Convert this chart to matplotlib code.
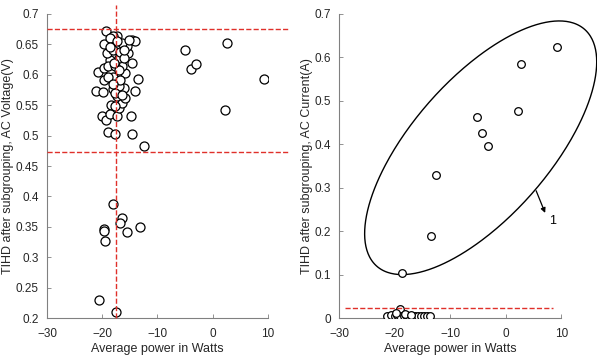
import numpy as np
import matplotlib
matplotlib.use("Agg")
import matplotlib.pyplot as plt

plt.rcParams['font.family'] = ['Liberation Sans', 'DejaVu Sans']

# ---------------- Left panel data: AC Voltage TIHD ----------------
volt_x = [-19.3, -19.6, -20.8, -21.1, -20.1, -19.3, -18.9, -17.6, -14.6, -14.8,
          -14.1, -13.5, -12.5, -14.6, -14.0, -14.6, -15.4, -19.9, -19.7, -19.7,
          -18.6, -18.4, -18.6, -17.3, -17.0, -16.4, -15.8, -16.1, -15.8, -16.4,
          -15.5, -16.4, -17.3, -18.0, -18.6, -19.2, -18.9, -18.0, -18.1, -17.3,
          -17.6, -17.0, -16.7, -17.0, -18.0, -17.3, -16.7, -18.6, -16.1, -17.6,
          -17.6, -16.9, -19.0, -18.0, -16.4, -15.2, -17.8, -16.0,
          -5.0, -4.0, -3.0, 2.6, 2.2, 9.3,
          -18.0, -19.7, -19.7, -19.5, -16.5, -16.7, -15.5, -13.2, -20.5, -17.5]
volt_y = [0.672, 0.650, 0.604, 0.574, 0.533, 0.525, 0.506, 0.503, 0.502, 0.532,
          0.574, 0.593, 0.483, 0.657, 0.655, 0.619, 0.636, 0.571, 0.592, 0.611,
          0.625, 0.551, 0.535, 0.532, 0.546, 0.554, 0.562, 0.578, 0.603, 0.614,
          0.647, 0.652, 0.663, 0.664, 0.660, 0.636, 0.614, 0.597, 0.576, 0.565,
          0.548, 0.581, 0.592, 0.627, 0.641, 0.655, 0.638, 0.646, 0.627, 0.570,
          0.614, 0.608, 0.597, 0.585, 0.567, 0.658, 0.620, 0.640,
          0.640, 0.610, 0.617, 0.652, 0.542, 0.593,
          0.388, 0.347, 0.343, 0.326, 0.365, 0.357, 0.341, 0.349, 0.230, 0.210]

volt_hlines = [0.675, 0.473]
volt_vline = -17.5

# ---------------- Right panel data: AC Current TIHD ----------------
curr_x = [9.3, 2.7, 2.3, -5.2, -4.3, -3.1, -12.6, -13.5, -18.6,
          -19.1, -21.3, -20.6, -20.0, -19.5, -19.0, -18.4, -17.9, -17.4, -16.9,
          -16.3, -15.8, -15.2, -14.7, -14.1, -13.6, -19.8, -18.2, -17.0]
curr_y = [0.623, 0.584, 0.477, 0.462, 0.426, 0.397, 0.330, 0.188, 0.104,
          0.020, 0.004, 0.006, 0.004, 0.008, 0.005, 0.004, 0.006, 0.004, 0.005,
          0.004, 0.005, 0.004, 0.004, 0.004, 0.004, 0.012, 0.010, 0.008]

curr_hline = 0.023
curr_hline_span = [-29.0, 8.6]

# Ellipse (enclosing group "1"): centre, half-extents, phase
ell_center = (-4.5, 0.392)
ell_rx, ell_ry, ell_phase = 20.9, 0.292, 0.827
annot_label = "1"
annot_from = (5.3, 0.299)
annot_to = (7.3, 0.236)

xticks = [-30, -20, -10, 0, 10]
volt_yticks = [0.2, 0.25, 0.3, 0.35, 0.4, 0.45, 0.5, 0.55, 0.6, 0.65, 0.7]
curr_yticks = [0, 0.1, 0.2, 0.3, 0.4, 0.5, 0.6, 0.7]

fig = plt.figure(figsize=(5.97, 3.56), dpi=100)
axL = fig.add_axes([0.0787, 0.1067, 0.370, 0.854])
axR = fig.add_axes([0.568, 0.1067, 0.372, 0.854])

spine_col = '#808080'
text_col = '#262626'

def style(ax):
    for s in ['top', 'right']:
        ax.spines[s].set_visible(False)
    for s in ['left', 'bottom']:
        ax.spines[s].set_color(spine_col)
        ax.spines[s].set_linewidth(0.8)
    ax.tick_params(direction='in', length=3, width=0.6, color=spine_col,
                   labelsize=8.5, labelcolor=text_col)
    ax.tick_params(axis='x', pad=7)
    ax.tick_params(axis='y', pad=6)
    ax.set_xlabel('Average power in Watts', fontsize=9, color=text_col, labelpad=2)

# Left
axL.plot(volt_x, volt_y, 'o', mfc='white', mec='black', ms=6.5, mew=0.9, zorder=3)
for h in volt_hlines:
    axL.plot([-30, 13.6], [h, h], '--', color='#e0302a', lw=1.0, clip_on=False, zorder=4)
axL.plot([volt_vline, volt_vline], [0.2, 0.715], '--', color='#e0302a', lw=1.0,
         clip_on=False, zorder=4)
axL.set_xlim(-30, 10)
axL.set_ylim(0.2, 0.7)
axL.set_xticks(xticks)
axL.set_yticks(volt_yticks)
axL.set_yticklabels(['0.2', '0.25', '0.3', '0.35', '0.4', '0.45', '0.5', '0.55', '0.6', '0.65', '0.7'])
style(axL)
axL.set_ylabel('TIHD after subgrouping, AC Voltage(V)', fontsize=9, color=text_col, labelpad=1)

# Right
axR.plot(curr_x, curr_y, 'o', mfc='white', mec='black', ms=5.5, mew=0.9, zorder=3)
axR.plot(curr_hline_span, [curr_hline, curr_hline], '--', color='#e0302a', lw=1.0, zorder=4)
t = np.linspace(0, 2 * np.pi, 400)
ex = ell_center[0] + ell_rx * np.cos(t)
ey = ell_center[1] + ell_ry * np.cos(t - ell_phase)
axR.plot(ex, ey, '-', color='black', lw=1.0, clip_on=False, zorder=2)
axR.annotate('', xy=annot_to, xytext=annot_from,
             arrowprops=dict(arrowstyle='-|>', color='black', lw=0.9, mutation_scale=7))
axR.text(annot_to[0] + 0.5, annot_to[1] - 0.012, annot_label, fontsize=9, color='black',
         ha='left', va='center')
axR.set_xlim(-30, 10)
axR.set_ylim(0, 0.7)
axR.set_xticks(xticks)
axR.set_yticks(curr_yticks)
axR.set_yticklabels(['0', '0.1', '0.2', '0.3', '0.4', '0.5', '0.6', '0.7'])
style(axR)
axR.set_ylabel('TIHD after subgrouping, AC Current(A)', fontsize=9, color=text_col, labelpad=1)

fig.savefig('out.png', dpi=100)
